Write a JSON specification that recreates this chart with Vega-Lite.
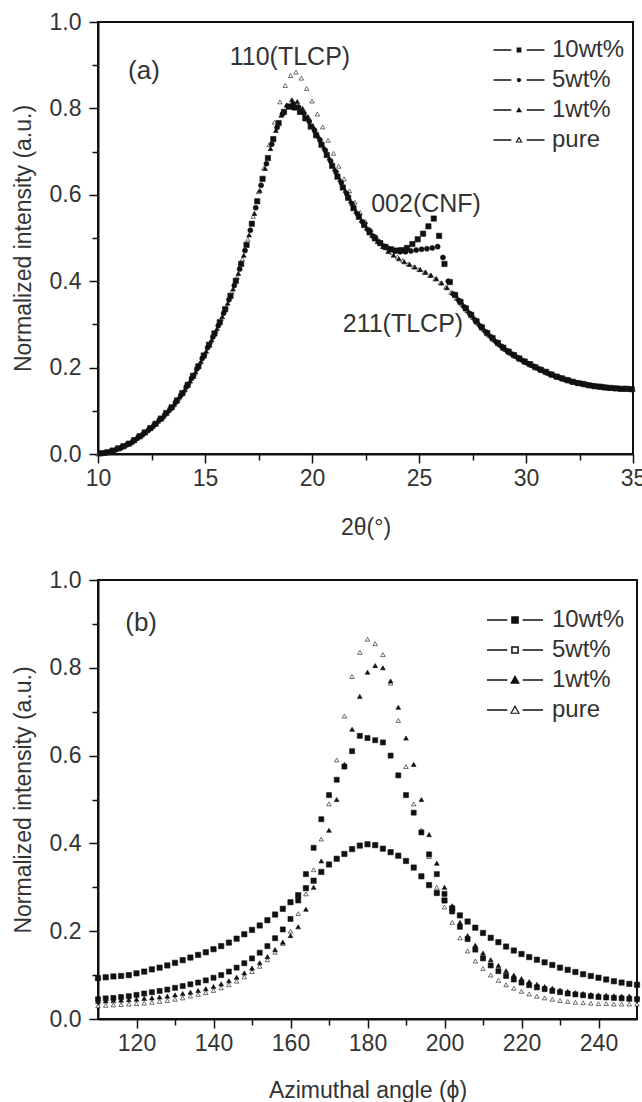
{
"$schema": "https://vega.github.io/schema/vega-lite/v6.json",
"padding": {"left": 11, "top": 10, "right": 0, "bottom": 0},
"spacing": 28,
"config": {
  "font": "Liberation Sans",
  "view": {"stroke": "#111", "strokeWidth": 2},
  "axis": {"domainColor": "#111", "domainWidth": 2, "tickColor": "#111", "tickWidth": 1.5, "grid": false,
    "labelFont": "Liberation Sans", "labelFontSize": 23, "labelColor": "#333", "labelFlush": false, "labelOverlap": false,
    "titleFont": "Liberation Sans", "titleFontSize": 23, "titleColor": "#333", "titleFontWeight": "normal"}
},
"datasets": {
"a": [
{"s":"pure","x":10,"y":0},{"s":"pure","x":10.25,"y":0.003},{"s":"pure","x":10.5,"y":0.004},{"s":"pure","x":10.75,"y":0.009},{"s":"pure","x":11,"y":0.013},{"s":"pure","x":11.25,"y":0.02},{"s":"pure","x":11.5,"y":0.025},{"s":"pure","x":11.75,"y":0.035},{"s":"pure","x":12,"y":0.042},{"s":"pure","x":12.25,"y":0.053},
{"s":"pure","x":12.5,"y":0.061},{"s":"pure","x":12.75,"y":0.074},{"s":"pure","x":13,"y":0.084},{"s":"pure","x":13.25,"y":0.099},{"s":"pure","x":13.5,"y":0.111},{"s":"pure","x":13.75,"y":0.129},{"s":"pure","x":14,"y":0.145},{"s":"pure","x":14.25,"y":0.166},{"s":"pure","x":14.5,"y":0.185},{"s":"pure","x":14.75,"y":0.21},
{"s":"pure","x":15,"y":0.233},{"s":"pure","x":15.25,"y":0.26},{"s":"pure","x":15.5,"y":0.284},{"s":"pure","x":15.75,"y":0.313},{"s":"pure","x":16,"y":0.341},{"s":"pure","x":16.25,"y":0.375},{"s":"pure","x":16.5,"y":0.409},{"s":"pure","x":16.75,"y":0.451},{"s":"pure","x":17,"y":0.497},{"s":"pure","x":17.25,"y":0.55},
{"s":"pure","x":17.5,"y":0.607},{"s":"pure","x":17.75,"y":0.662},{"s":"pure","x":18,"y":0.716},{"s":"pure","x":18.25,"y":0.768},{"s":"pure","x":18.5,"y":0.815},{"s":"pure","x":18.75,"y":0.853},{"s":"pure","x":19,"y":0.876},{"s":"pure","x":19.25,"y":0.884},{"s":"pure","x":19.5,"y":0.87},{"s":"pure","x":19.75,"y":0.846},
{"s":"pure","x":20,"y":0.817},{"s":"pure","x":20.25,"y":0.787},{"s":"pure","x":20.5,"y":0.757},{"s":"pure","x":20.75,"y":0.726},{"s":"pure","x":21,"y":0.696},{"s":"pure","x":21.25,"y":0.666},{"s":"pure","x":21.5,"y":0.637},{"s":"pure","x":21.75,"y":0.609},{"s":"pure","x":22,"y":0.583},{"s":"pure","x":22.25,"y":0.559},
{"s":"pure","x":22.5,"y":0.538},{"s":"pure","x":22.75,"y":0.519},{"s":"pure","x":23,"y":0.503},{"s":"pure","x":23.25,"y":0.489},{"s":"pure","x":23.5,"y":0.477},{"s":"pure","x":23.75,"y":0.466},{"s":"pure","x":24,"y":0.456},{"s":"pure","x":24.25,"y":0.448},{"s":"pure","x":24.5,"y":0.44},{"s":"pure","x":24.75,"y":0.433},
{"s":"pure","x":25,"y":0.427},{"s":"pure","x":25.25,"y":0.42},{"s":"pure","x":25.5,"y":0.413},{"s":"pure","x":25.75,"y":0.405},{"s":"pure","x":26,"y":0.396},{"s":"pure","x":26.25,"y":0.386},{"s":"pure","x":26.5,"y":0.374},{"s":"pure","x":26.75,"y":0.361},{"s":"pure","x":27,"y":0.347},{"s":"pure","x":27.25,"y":0.332},
{"s":"pure","x":27.5,"y":0.317},{"s":"pure","x":27.75,"y":0.303},{"s":"pure","x":28,"y":0.289},{"s":"pure","x":28.25,"y":0.276},{"s":"pure","x":28.5,"y":0.264},{"s":"pure","x":28.75,"y":0.253},{"s":"pure","x":29,"y":0.243},{"s":"pure","x":29.25,"y":0.234},{"s":"pure","x":29.5,"y":0.226},{"s":"pure","x":29.75,"y":0.219},
{"s":"pure","x":30,"y":0.212},{"s":"pure","x":30.25,"y":0.205},{"s":"pure","x":30.5,"y":0.199},{"s":"pure","x":30.75,"y":0.193},{"s":"pure","x":31,"y":0.187},{"s":"pure","x":31.25,"y":0.182},{"s":"pure","x":31.5,"y":0.177},{"s":"pure","x":31.75,"y":0.173},{"s":"pure","x":32,"y":0.169},{"s":"pure","x":32.25,"y":0.166},
{"s":"pure","x":32.5,"y":0.163},{"s":"pure","x":32.75,"y":0.16},{"s":"pure","x":33,"y":0.158},{"s":"pure","x":33.25,"y":0.156},{"s":"pure","x":33.5,"y":0.154},{"s":"pure","x":33.75,"y":0.153},{"s":"pure","x":34,"y":0.152},{"s":"pure","x":34.25,"y":0.151},{"s":"pure","x":34.5,"y":0.15},{"s":"pure","x":34.75,"y":0.15},{"s":"pure","x":35,"y":0.15},

{"s":"1wt%","x":10.06,"y":0.001},{"s":"1wt%","x":10.31,"y":0.002},{"s":"1wt%","x":10.56,"y":0.006},{"s":"1wt%","x":10.81,"y":0.01},{"s":"1wt%","x":11.06,"y":0.014},{"s":"1wt%","x":11.31,"y":0.021},{"s":"1wt%","x":11.56,"y":0.027},{"s":"1wt%","x":11.81,"y":0.036},{"s":"1wt%","x":12.06,"y":0.044},{"s":"1wt%","x":12.31,"y":0.054},
{"s":"1wt%","x":12.56,"y":0.064},{"s":"1wt%","x":12.81,"y":0.076},{"s":"1wt%","x":13.06,"y":0.087},{"s":"1wt%","x":13.31,"y":0.101},{"s":"1wt%","x":13.56,"y":0.115},{"s":"1wt%","x":13.81,"y":0.132},{"s":"1wt%","x":14.06,"y":0.149},{"s":"1wt%","x":14.31,"y":0.169},{"s":"1wt%","x":14.56,"y":0.19},{"s":"1wt%","x":14.81,"y":0.214},
{"s":"1wt%","x":15.06,"y":0.238},{"s":"1wt%","x":15.31,"y":0.264},{"s":"1wt%","x":15.56,"y":0.29},{"s":"1wt%","x":15.81,"y":0.318},{"s":"1wt%","x":16.06,"y":0.349},{"s":"1wt%","x":16.31,"y":0.382},{"s":"1wt%","x":16.56,"y":0.418},{"s":"1wt%","x":16.81,"y":0.46},{"s":"1wt%","x":17.06,"y":0.507},{"s":"1wt%","x":17.31,"y":0.557},
{"s":"1wt%","x":17.56,"y":0.61},{"s":"1wt%","x":17.81,"y":0.661},{"s":"1wt%","x":18.06,"y":0.707},{"s":"1wt%","x":18.31,"y":0.749},{"s":"1wt%","x":18.56,"y":0.784},{"s":"1wt%","x":18.81,"y":0.808},{"s":"1wt%","x":19.06,"y":0.82},{"s":"1wt%","x":19.31,"y":0.816},{"s":"1wt%","x":19.56,"y":0.8},{"s":"1wt%","x":19.81,"y":0.781},
{"s":"1wt%","x":20.06,"y":0.758},{"s":"1wt%","x":20.31,"y":0.735},{"s":"1wt%","x":20.56,"y":0.71},{"s":"1wt%","x":20.81,"y":0.685},{"s":"1wt%","x":21.06,"y":0.66},{"s":"1wt%","x":21.31,"y":0.635},{"s":"1wt%","x":21.56,"y":0.61},{"s":"1wt%","x":21.81,"y":0.586},{"s":"1wt%","x":22.06,"y":0.562},{"s":"1wt%","x":22.31,"y":0.541},
{"s":"1wt%","x":22.56,"y":0.523},{"s":"1wt%","x":22.81,"y":0.506},{"s":"1wt%","x":23.06,"y":0.492},{"s":"1wt%","x":23.31,"y":0.48},{"s":"1wt%","x":23.56,"y":0.469},{"s":"1wt%","x":23.81,"y":0.46},{"s":"1wt%","x":24.06,"y":0.452},{"s":"1wt%","x":24.31,"y":0.445},{"s":"1wt%","x":24.56,"y":0.439},{"s":"1wt%","x":24.81,"y":0.433},
{"s":"1wt%","x":25.06,"y":0.427},{"s":"1wt%","x":25.31,"y":0.421},{"s":"1wt%","x":25.56,"y":0.414},{"s":"1wt%","x":25.81,"y":0.406},{"s":"1wt%","x":26.06,"y":0.396},{"s":"1wt%","x":26.31,"y":0.385},{"s":"1wt%","x":26.56,"y":0.373},{"s":"1wt%","x":26.81,"y":0.36},{"s":"1wt%","x":27.06,"y":0.345},{"s":"1wt%","x":27.31,"y":0.331},
{"s":"1wt%","x":27.56,"y":0.316},{"s":"1wt%","x":27.81,"y":0.301},{"s":"1wt%","x":28.06,"y":0.287},{"s":"1wt%","x":28.31,"y":0.275},{"s":"1wt%","x":28.56,"y":0.263},{"s":"1wt%","x":28.81,"y":0.252},{"s":"1wt%","x":29.06,"y":0.242},{"s":"1wt%","x":29.31,"y":0.233},{"s":"1wt%","x":29.56,"y":0.226},{"s":"1wt%","x":29.81,"y":0.218},
{"s":"1wt%","x":30.06,"y":0.211},{"s":"1wt%","x":30.31,"y":0.205},{"s":"1wt%","x":30.56,"y":0.199},{"s":"1wt%","x":30.81,"y":0.193},{"s":"1wt%","x":31.06,"y":0.187},{"s":"1wt%","x":31.31,"y":0.182},{"s":"1wt%","x":31.56,"y":0.177},{"s":"1wt%","x":31.81,"y":0.173},{"s":"1wt%","x":32.06,"y":0.17},{"s":"1wt%","x":32.31,"y":0.166},
{"s":"1wt%","x":32.56,"y":0.164},{"s":"1wt%","x":32.81,"y":0.161},{"s":"1wt%","x":33.06,"y":0.159},{"s":"1wt%","x":33.31,"y":0.157},{"s":"1wt%","x":33.56,"y":0.155},{"s":"1wt%","x":33.81,"y":0.154},{"s":"1wt%","x":34.06,"y":0.153},{"s":"1wt%","x":34.31,"y":0.152},{"s":"1wt%","x":34.56,"y":0.151},{"s":"1wt%","x":34.81,"y":0.151},

{"s":"5wt%","x":10.12,"y":0.001},{"s":"5wt%","x":10.37,"y":0.003},{"s":"5wt%","x":10.62,"y":0.007},{"s":"5wt%","x":10.87,"y":0.011},{"s":"5wt%","x":11.12,"y":0.016},{"s":"5wt%","x":11.37,"y":0.022},{"s":"5wt%","x":11.62,"y":0.029},{"s":"5wt%","x":11.87,"y":0.038},{"s":"5wt%","x":12.12,"y":0.047},{"s":"5wt%","x":12.37,"y":0.056},
{"s":"5wt%","x":12.62,"y":0.067},{"s":"5wt%","x":12.87,"y":0.079},{"s":"5wt%","x":13.12,"y":0.091},{"s":"5wt%","x":13.37,"y":0.104},{"s":"5wt%","x":13.62,"y":0.119},{"s":"5wt%","x":13.87,"y":0.136},{"s":"5wt%","x":14.12,"y":0.155},{"s":"5wt%","x":14.37,"y":0.175},{"s":"5wt%","x":14.62,"y":0.197},{"s":"5wt%","x":14.87,"y":0.221},
{"s":"5wt%","x":15.12,"y":0.246},{"s":"5wt%","x":15.37,"y":0.271},{"s":"5wt%","x":15.62,"y":0.297},{"s":"5wt%","x":15.87,"y":0.326},{"s":"5wt%","x":16.12,"y":0.357},{"s":"5wt%","x":16.37,"y":0.39},{"s":"5wt%","x":16.62,"y":0.428},{"s":"5wt%","x":16.87,"y":0.471},{"s":"5wt%","x":17.12,"y":0.518},{"s":"5wt%","x":17.37,"y":0.57},
{"s":"5wt%","x":17.62,"y":0.622},{"s":"5wt%","x":17.87,"y":0.672},{"s":"5wt%","x":18.12,"y":0.717},{"s":"5wt%","x":18.37,"y":0.756},{"s":"5wt%","x":18.62,"y":0.787},{"s":"5wt%","x":18.87,"y":0.805},{"s":"5wt%","x":19.12,"y":0.81},{"s":"5wt%","x":19.37,"y":0.803},{"s":"5wt%","x":19.62,"y":0.789},{"s":"5wt%","x":19.87,"y":0.77},
{"s":"5wt%","x":20.12,"y":0.749},{"s":"5wt%","x":20.37,"y":0.727},{"s":"5wt%","x":20.62,"y":0.703},{"s":"5wt%","x":20.87,"y":0.678},{"s":"5wt%","x":21.12,"y":0.653},{"s":"5wt%","x":21.37,"y":0.628},{"s":"5wt%","x":21.62,"y":0.603},{"s":"5wt%","x":21.87,"y":0.579},{"s":"5wt%","x":22.12,"y":0.556},{"s":"5wt%","x":22.37,"y":0.537},
{"s":"5wt%","x":22.62,"y":0.519},{"s":"5wt%","x":22.87,"y":0.504},{"s":"5wt%","x":23.12,"y":0.491},{"s":"5wt%","x":23.37,"y":0.481},{"s":"5wt%","x":23.62,"y":0.474},{"s":"5wt%","x":23.87,"y":0.47},{"s":"5wt%","x":24.12,"y":0.468},{"s":"5wt%","x":24.37,"y":0.468},{"s":"5wt%","x":24.62,"y":0.47},{"s":"5wt%","x":24.87,"y":0.472},
{"s":"5wt%","x":25.12,"y":0.474},{"s":"5wt%","x":25.37,"y":0.475},{"s":"5wt%","x":25.62,"y":0.477},{"s":"5wt%","x":25.87,"y":0.48},{"s":"5wt%","x":26.12,"y":0.455},{"s":"5wt%","x":26.37,"y":0.4},{"s":"5wt%","x":26.62,"y":0.37},{"s":"5wt%","x":26.87,"y":0.355},{"s":"5wt%","x":27.12,"y":0.34},{"s":"5wt%","x":27.37,"y":0.325},
{"s":"5wt%","x":27.62,"y":0.31},{"s":"5wt%","x":27.87,"y":0.296},{"s":"5wt%","x":28.12,"y":0.283},{"s":"5wt%","x":28.37,"y":0.271},{"s":"5wt%","x":28.62,"y":0.259},{"s":"5wt%","x":28.87,"y":0.249},{"s":"5wt%","x":29.12,"y":0.239},{"s":"5wt%","x":29.37,"y":0.231},{"s":"5wt%","x":29.62,"y":0.223},{"s":"5wt%","x":29.87,"y":0.216},
{"s":"5wt%","x":30.12,"y":0.209},{"s":"5wt%","x":30.37,"y":0.203},{"s":"5wt%","x":30.62,"y":0.197},{"s":"5wt%","x":30.87,"y":0.191},{"s":"5wt%","x":31.12,"y":0.185},{"s":"5wt%","x":31.37,"y":0.18},{"s":"5wt%","x":31.62,"y":0.176},{"s":"5wt%","x":31.87,"y":0.172},{"s":"5wt%","x":32.12,"y":0.168},{"s":"5wt%","x":32.37,"y":0.165},
{"s":"5wt%","x":32.62,"y":0.163},{"s":"5wt%","x":32.87,"y":0.16},{"s":"5wt%","x":33.12,"y":0.158},{"s":"5wt%","x":33.37,"y":0.156},{"s":"5wt%","x":33.62,"y":0.155},{"s":"5wt%","x":33.87,"y":0.153},{"s":"5wt%","x":34.12,"y":0.152},{"s":"5wt%","x":34.37,"y":0.151},{"s":"5wt%","x":34.62,"y":0.151},{"s":"5wt%","x":34.87,"y":0.15},

{"s":"10wt%","x":10.19,"y":0.002},{"s":"10wt%","x":10.44,"y":0.004},{"s":"10wt%","x":10.69,"y":0.008},{"s":"10wt%","x":10.94,"y":0.013},{"s":"10wt%","x":11.19,"y":0.018},{"s":"10wt%","x":11.44,"y":0.024},{"s":"10wt%","x":11.69,"y":0.032},{"s":"10wt%","x":11.94,"y":0.041},{"s":"10wt%","x":12.19,"y":0.05},{"s":"10wt%","x":12.44,"y":0.06},
{"s":"10wt%","x":12.69,"y":0.07},{"s":"10wt%","x":12.94,"y":0.082},{"s":"10wt%","x":13.19,"y":0.095},{"s":"10wt%","x":13.44,"y":0.108},{"s":"10wt%","x":13.69,"y":0.124},{"s":"10wt%","x":13.94,"y":0.141},{"s":"10wt%","x":14.19,"y":0.16},{"s":"10wt%","x":14.44,"y":0.181},{"s":"10wt%","x":14.69,"y":0.203},{"s":"10wt%","x":14.94,"y":0.228},
{"s":"10wt%","x":15.19,"y":0.253},{"s":"10wt%","x":15.44,"y":0.279},{"s":"10wt%","x":15.69,"y":0.305},{"s":"10wt%","x":15.94,"y":0.335},{"s":"10wt%","x":16.19,"y":0.366},{"s":"10wt%","x":16.44,"y":0.401},{"s":"10wt%","x":16.69,"y":0.44},{"s":"10wt%","x":16.94,"y":0.484},{"s":"10wt%","x":17.19,"y":0.533},{"s":"10wt%","x":17.44,"y":0.585},
{"s":"10wt%","x":17.69,"y":0.637},{"s":"10wt%","x":17.94,"y":0.685},{"s":"10wt%","x":18.19,"y":0.729},{"s":"10wt%","x":18.44,"y":0.766},{"s":"10wt%","x":18.69,"y":0.792},{"s":"10wt%","x":18.94,"y":0.804},{"s":"10wt%","x":19.19,"y":0.802},{"s":"10wt%","x":19.44,"y":0.792},{"s":"10wt%","x":19.69,"y":0.777},{"s":"10wt%","x":19.94,"y":0.758},
{"s":"10wt%","x":20.19,"y":0.738},{"s":"10wt%","x":20.44,"y":0.716},{"s":"10wt%","x":20.69,"y":0.692},{"s":"10wt%","x":20.94,"y":0.667},{"s":"10wt%","x":21.19,"y":0.642},{"s":"10wt%","x":21.44,"y":0.617},{"s":"10wt%","x":21.69,"y":0.593},{"s":"10wt%","x":21.94,"y":0.569},{"s":"10wt%","x":22.19,"y":0.549},{"s":"10wt%","x":22.44,"y":0.53},
{"s":"10wt%","x":22.69,"y":0.513},{"s":"10wt%","x":22.94,"y":0.499},{"s":"10wt%","x":23.19,"y":0.488},{"s":"10wt%","x":23.44,"y":0.479},{"s":"10wt%","x":23.69,"y":0.474},{"s":"10wt%","x":23.94,"y":0.471},{"s":"10wt%","x":24.19,"y":0.472},{"s":"10wt%","x":24.44,"y":0.477},{"s":"10wt%","x":24.69,"y":0.486},{"s":"10wt%","x":24.94,"y":0.497},
{"s":"10wt%","x":25.19,"y":0.51},{"s":"10wt%","x":25.44,"y":0.527},{"s":"10wt%","x":25.69,"y":0.545},{"s":"10wt%","x":25.94,"y":0.505},{"s":"10wt%","x":26.19,"y":0.44},{"s":"10wt%","x":26.44,"y":0.398},{"s":"10wt%","x":26.69,"y":0.368},{"s":"10wt%","x":26.94,"y":0.352},{"s":"10wt%","x":27.19,"y":0.337},{"s":"10wt%","x":27.44,"y":0.322},
{"s":"10wt%","x":27.69,"y":0.307},{"s":"10wt%","x":27.94,"y":0.293},{"s":"10wt%","x":28.19,"y":0.28},{"s":"10wt%","x":28.44,"y":0.268},{"s":"10wt%","x":28.69,"y":0.257},{"s":"10wt%","x":28.94,"y":0.246},{"s":"10wt%","x":29.19,"y":0.237},{"s":"10wt%","x":29.44,"y":0.229},{"s":"10wt%","x":29.69,"y":0.221},{"s":"10wt%","x":29.94,"y":0.214},
{"s":"10wt%","x":30.19,"y":0.208},{"s":"10wt%","x":30.44,"y":0.201},{"s":"10wt%","x":30.69,"y":0.195},{"s":"10wt%","x":30.94,"y":0.19},{"s":"10wt%","x":31.19,"y":0.184},{"s":"10wt%","x":31.44,"y":0.179},{"s":"10wt%","x":31.69,"y":0.175},{"s":"10wt%","x":31.94,"y":0.171},{"s":"10wt%","x":32.19,"y":0.167},{"s":"10wt%","x":32.44,"y":0.164},
{"s":"10wt%","x":32.69,"y":0.162},{"s":"10wt%","x":32.94,"y":0.159},{"s":"10wt%","x":33.19,"y":0.157},{"s":"10wt%","x":33.44,"y":0.156},{"s":"10wt%","x":33.69,"y":0.154},{"s":"10wt%","x":33.94,"y":0.153},{"s":"10wt%","x":34.19,"y":0.152},{"s":"10wt%","x":34.44,"y":0.151},{"s":"10wt%","x":34.69,"y":0.151},{"s":"10wt%","x":34.94,"y":0.15}
],
"b": [
{"s":"pure","x":110,"y":0.03},{"s":"pure","x":112,"y":0.031},{"s":"pure","x":114,"y":0.032},{"s":"pure","x":116,"y":0.033},{"s":"pure","x":118,"y":0.034},{"s":"pure","x":120,"y":0.035},{"s":"pure","x":122,"y":0.036},{"s":"pure","x":124,"y":0.038},{"s":"pure","x":126,"y":0.04},{"s":"pure","x":128,"y":0.042},
{"s":"pure","x":130,"y":0.045},{"s":"pure","x":132,"y":0.048},{"s":"pure","x":134,"y":0.052},{"s":"pure","x":136,"y":0.056},{"s":"pure","x":138,"y":0.06},{"s":"pure","x":140,"y":0.065},{"s":"pure","x":142,"y":0.071},{"s":"pure","x":144,"y":0.078},{"s":"pure","x":146,"y":0.086},{"s":"pure","x":148,"y":0.096},
{"s":"pure","x":150,"y":0.108},{"s":"pure","x":152,"y":0.12},{"s":"pure","x":154,"y":0.135},{"s":"pure","x":156,"y":0.152},{"s":"pure","x":158,"y":0.172},{"s":"pure","x":160,"y":0.2},{"s":"pure","x":162,"y":0.24},{"s":"pure","x":164,"y":0.285},{"s":"pure","x":166,"y":0.34},{"s":"pure","x":168,"y":0.41},
{"s":"pure","x":170,"y":0.49},{"s":"pure","x":172,"y":0.59},{"s":"pure","x":174,"y":0.69},{"s":"pure","x":176,"y":0.78},{"s":"pure","x":178,"y":0.835},{"s":"pure","x":180,"y":0.865},{"s":"pure","x":182,"y":0.855},{"s":"pure","x":184,"y":0.83},{"s":"pure","x":186,"y":0.765},{"s":"pure","x":188,"y":0.68},
{"s":"pure","x":190,"y":0.575},{"s":"pure","x":192,"y":0.49},{"s":"pure","x":194,"y":0.43},{"s":"pure","x":196,"y":0.37},{"s":"pure","x":198,"y":0.3},{"s":"pure","x":200,"y":0.255},{"s":"pure","x":202,"y":0.22},{"s":"pure","x":204,"y":0.185},{"s":"pure","x":206,"y":0.155},{"s":"pure","x":208,"y":0.132},
{"s":"pure","x":210,"y":0.115},{"s":"pure","x":212,"y":0.1},{"s":"pure","x":214,"y":0.088},{"s":"pure","x":216,"y":0.078},{"s":"pure","x":218,"y":0.07},{"s":"pure","x":220,"y":0.063},{"s":"pure","x":222,"y":0.057},{"s":"pure","x":224,"y":0.052},{"s":"pure","x":226,"y":0.048},{"s":"pure","x":228,"y":0.045},
{"s":"pure","x":230,"y":0.042},{"s":"pure","x":232,"y":0.04},{"s":"pure","x":234,"y":0.038},{"s":"pure","x":236,"y":0.037},{"s":"pure","x":238,"y":0.036},{"s":"pure","x":240,"y":0.035},{"s":"pure","x":242,"y":0.035},{"s":"pure","x":244,"y":0.034},{"s":"pure","x":246,"y":0.034},{"s":"pure","x":248,"y":0.034},{"s":"pure","x":250,"y":0.034},

{"s":"5wt%","x":110,"y":0.045},{"s":"5wt%","x":112,"y":0.047},{"s":"5wt%","x":114,"y":0.048},{"s":"5wt%","x":116,"y":0.05},{"s":"5wt%","x":118,"y":0.052},{"s":"5wt%","x":120,"y":0.055},{"s":"5wt%","x":122,"y":0.058},{"s":"5wt%","x":124,"y":0.061},{"s":"5wt%","x":126,"y":0.064},{"s":"5wt%","x":128,"y":0.067},
{"s":"5wt%","x":130,"y":0.071},{"s":"5wt%","x":132,"y":0.075},{"s":"5wt%","x":134,"y":0.079},{"s":"5wt%","x":136,"y":0.083},{"s":"5wt%","x":138,"y":0.088},{"s":"5wt%","x":140,"y":0.094},{"s":"5wt%","x":142,"y":0.1},{"s":"5wt%","x":144,"y":0.108},{"s":"5wt%","x":146,"y":0.117},{"s":"5wt%","x":148,"y":0.127},
{"s":"5wt%","x":150,"y":0.138},{"s":"5wt%","x":152,"y":0.151},{"s":"5wt%","x":154,"y":0.166},{"s":"5wt%","x":156,"y":0.184},{"s":"5wt%","x":158,"y":0.204},{"s":"5wt%","x":160,"y":0.228},{"s":"5wt%","x":162,"y":0.27},{"s":"5wt%","x":164,"y":0.33},{"s":"5wt%","x":166,"y":0.39},{"s":"5wt%","x":168,"y":0.455},
{"s":"5wt%","x":170,"y":0.51},{"s":"5wt%","x":172,"y":0.545},{"s":"5wt%","x":174,"y":0.575},{"s":"5wt%","x":176,"y":0.61},{"s":"5wt%","x":178,"y":0.645},{"s":"5wt%","x":180,"y":0.64},{"s":"5wt%","x":182,"y":0.635},{"s":"5wt%","x":184,"y":0.63},{"s":"5wt%","x":186,"y":0.6},{"s":"5wt%","x":188,"y":0.555},
{"s":"5wt%","x":190,"y":0.51},{"s":"5wt%","x":192,"y":0.47},{"s":"5wt%","x":194,"y":0.425},{"s":"5wt%","x":196,"y":0.375},{"s":"5wt%","x":198,"y":0.33},{"s":"5wt%","x":200,"y":0.285},{"s":"5wt%","x":202,"y":0.245},{"s":"5wt%","x":204,"y":0.21},{"s":"5wt%","x":206,"y":0.182},{"s":"5wt%","x":208,"y":0.158},
{"s":"5wt%","x":210,"y":0.138},{"s":"5wt%","x":212,"y":0.122},{"s":"5wt%","x":214,"y":0.109},{"s":"5wt%","x":216,"y":0.098},{"s":"5wt%","x":218,"y":0.09},{"s":"5wt%","x":220,"y":0.083},{"s":"5wt%","x":222,"y":0.077},{"s":"5wt%","x":224,"y":0.072},{"s":"5wt%","x":226,"y":0.068},{"s":"5wt%","x":228,"y":0.064},
{"s":"5wt%","x":230,"y":0.061},{"s":"5wt%","x":232,"y":0.058},{"s":"5wt%","x":234,"y":0.056},{"s":"5wt%","x":236,"y":0.054},{"s":"5wt%","x":238,"y":0.052},{"s":"5wt%","x":240,"y":0.05},{"s":"5wt%","x":242,"y":0.049},{"s":"5wt%","x":244,"y":0.048},{"s":"5wt%","x":246,"y":0.047},{"s":"5wt%","x":248,"y":0.046},{"s":"5wt%","x":250,"y":0.045},

{"s":"1wt%","x":110,"y":0.04},{"s":"1wt%","x":112,"y":0.041},{"s":"1wt%","x":114,"y":0.042},{"s":"1wt%","x":116,"y":0.043},{"s":"1wt%","x":118,"y":0.044},{"s":"1wt%","x":120,"y":0.045},{"s":"1wt%","x":122,"y":0.047},{"s":"1wt%","x":124,"y":0.048},{"s":"1wt%","x":126,"y":0.05},{"s":"1wt%","x":128,"y":0.052},
{"s":"1wt%","x":130,"y":0.055},{"s":"1wt%","x":132,"y":0.058},{"s":"1wt%","x":134,"y":0.061},{"s":"1wt%","x":136,"y":0.065},{"s":"1wt%","x":138,"y":0.069},{"s":"1wt%","x":140,"y":0.074},{"s":"1wt%","x":142,"y":0.08},{"s":"1wt%","x":144,"y":0.087},{"s":"1wt%","x":146,"y":0.095},{"s":"1wt%","x":148,"y":0.105},
{"s":"1wt%","x":150,"y":0.116},{"s":"1wt%","x":152,"y":0.128},{"s":"1wt%","x":154,"y":0.142},{"s":"1wt%","x":156,"y":0.158},{"s":"1wt%","x":158,"y":0.175},{"s":"1wt%","x":160,"y":0.19},{"s":"1wt%","x":162,"y":0.21},{"s":"1wt%","x":164,"y":0.25},{"s":"1wt%","x":166,"y":0.3},{"s":"1wt%","x":168,"y":0.36},
{"s":"1wt%","x":170,"y":0.43},{"s":"1wt%","x":172,"y":0.5},{"s":"1wt%","x":174,"y":0.58},{"s":"1wt%","x":176,"y":0.66},{"s":"1wt%","x":178,"y":0.735},{"s":"1wt%","x":180,"y":0.79},{"s":"1wt%","x":182,"y":0.805},{"s":"1wt%","x":184,"y":0.8},{"s":"1wt%","x":186,"y":0.77},{"s":"1wt%","x":188,"y":0.71},
{"s":"1wt%","x":190,"y":0.64},{"s":"1wt%","x":192,"y":0.58},{"s":"1wt%","x":194,"y":0.5},{"s":"1wt%","x":196,"y":0.42},{"s":"1wt%","x":198,"y":0.355},{"s":"1wt%","x":200,"y":0.3},{"s":"1wt%","x":202,"y":0.258},{"s":"1wt%","x":204,"y":0.22},{"s":"1wt%","x":206,"y":0.19},{"s":"1wt%","x":208,"y":0.168},
{"s":"1wt%","x":210,"y":0.15},{"s":"1wt%","x":212,"y":0.135},{"s":"1wt%","x":214,"y":0.122},{"s":"1wt%","x":216,"y":0.11},{"s":"1wt%","x":218,"y":0.1},{"s":"1wt%","x":220,"y":0.092},{"s":"1wt%","x":222,"y":0.085},{"s":"1wt%","x":224,"y":0.079},{"s":"1wt%","x":226,"y":0.074},{"s":"1wt%","x":228,"y":0.07},
{"s":"1wt%","x":230,"y":0.066},{"s":"1wt%","x":232,"y":0.063},{"s":"1wt%","x":234,"y":0.06},{"s":"1wt%","x":236,"y":0.058},{"s":"1wt%","x":238,"y":0.056},{"s":"1wt%","x":240,"y":0.055},{"s":"1wt%","x":242,"y":0.054},{"s":"1wt%","x":244,"y":0.053},{"s":"1wt%","x":246,"y":0.052},{"s":"1wt%","x":248,"y":0.052},{"s":"1wt%","x":250,"y":0.051},

{"s":"10wt%","x":110,"y":0.093},{"s":"10wt%","x":112,"y":0.095},{"s":"10wt%","x":114,"y":0.097},{"s":"10wt%","x":116,"y":0.098},{"s":"10wt%","x":118,"y":0.1},{"s":"10wt%","x":120,"y":0.104},{"s":"10wt%","x":122,"y":0.108},{"s":"10wt%","x":124,"y":0.113},{"s":"10wt%","x":126,"y":0.117},{"s":"10wt%","x":128,"y":0.122},
{"s":"10wt%","x":130,"y":0.128},{"s":"10wt%","x":132,"y":0.134},{"s":"10wt%","x":134,"y":0.14},{"s":"10wt%","x":136,"y":0.146},{"s":"10wt%","x":138,"y":0.152},{"s":"10wt%","x":140,"y":0.159},{"s":"10wt%","x":142,"y":0.166},{"s":"10wt%","x":144,"y":0.174},{"s":"10wt%","x":146,"y":0.183},{"s":"10wt%","x":148,"y":0.193},
{"s":"10wt%","x":150,"y":0.203},{"s":"10wt%","x":152,"y":0.213},{"s":"10wt%","x":154,"y":0.225},{"s":"10wt%","x":156,"y":0.238},{"s":"10wt%","x":158,"y":0.251},{"s":"10wt%","x":160,"y":0.266},{"s":"10wt%","x":162,"y":0.282},{"s":"10wt%","x":164,"y":0.298},{"s":"10wt%","x":166,"y":0.315},{"s":"10wt%","x":168,"y":0.335},
{"s":"10wt%","x":170,"y":0.352},{"s":"10wt%","x":172,"y":0.365},{"s":"10wt%","x":174,"y":0.376},{"s":"10wt%","x":176,"y":0.387},{"s":"10wt%","x":178,"y":0.395},{"s":"10wt%","x":180,"y":0.398},{"s":"10wt%","x":182,"y":0.396},{"s":"10wt%","x":184,"y":0.388},{"s":"10wt%","x":186,"y":0.38},{"s":"10wt%","x":188,"y":0.372},
{"s":"10wt%","x":190,"y":0.36},{"s":"10wt%","x":192,"y":0.345},{"s":"10wt%","x":194,"y":0.325},{"s":"10wt%","x":196,"y":0.305},{"s":"10wt%","x":198,"y":0.287},{"s":"10wt%","x":200,"y":0.27},{"s":"10wt%","x":202,"y":0.252},{"s":"10wt%","x":204,"y":0.236},{"s":"10wt%","x":206,"y":0.222},{"s":"10wt%","x":208,"y":0.208},
{"s":"10wt%","x":210,"y":0.196},{"s":"10wt%","x":212,"y":0.185},{"s":"10wt%","x":214,"y":0.175},{"s":"10wt%","x":216,"y":0.165},{"s":"10wt%","x":218,"y":0.156},{"s":"10wt%","x":220,"y":0.148},{"s":"10wt%","x":222,"y":0.141},{"s":"10wt%","x":224,"y":0.135},{"s":"10wt%","x":226,"y":0.129},{"s":"10wt%","x":228,"y":0.123},
{"s":"10wt%","x":230,"y":0.117},{"s":"10wt%","x":232,"y":0.112},{"s":"10wt%","x":234,"y":0.107},{"s":"10wt%","x":236,"y":0.102},{"s":"10wt%","x":238,"y":0.098},{"s":"10wt%","x":240,"y":0.094},{"s":"10wt%","x":242,"y":0.09},{"s":"10wt%","x":244,"y":0.086},{"s":"10wt%","x":246,"y":0.083},{"s":"10wt%","x":248,"y":0.08},{"s":"10wt%","x":250,"y":0.078}
]
},
"vconcat": [
{
  "width": 535, "height": 432,
  "resolve": {"scale": {"shape": "independent"}},
  "layer": [
    {
      "data": {"name": "a"},
      "mark": {"type": "point", "filled": true, "stroke": "#111", "opacity": 1},
      "encoding": {
        "x": {"field": "x", "type": "quantitative", "scale": {"domain": [10, 35], "nice": false, "zero": false},
          "axis": {"values": [10,12.5,15,17.5,20,22.5,25,27.5,30,32.5,35], "labelOverlap": false, "labelExpr": "datum.value % 5 === 0 ? datum.label : ''",
            "tickSize": {"condition": {"test": "datum.value % 5 === 0", "value": 9}, "value": 6}, "labelPadding": 4, "titlePadding": 26},
          "title": "2θ(°)"},
        "y": {"field": "y", "type": "quantitative", "scale": {"domain": [0, 1], "nice": false},
          "axis": {"values": [0,0.1,0.2,0.3,0.4,0.5,0.6,0.7,0.8,0.9,1], "labelOverlap": false, "format": ".1f", "labelExpr": "round(datum.value*10) % 2 === 0 ? datum.label : ''",
            "tickSize": {"condition": {"test": "round(datum.value*10) % 2 === 0", "value": 9}, "value": 6}, "labelPadding": 8, "titlePadding": 14},
          "title": "Normalized intensity (a.u.)"},
        "shape": {"field": "s", "type": "nominal", "scale": {"domain": ["10wt%","5wt%","1wt%","pure"], "range": ["square","circle","triangle-up","triangle-up"]}, "legend": null},
        "fill": {"field": "s", "type": "nominal", "scale": {"domain": ["10wt%","5wt%","1wt%","pure"], "range": ["#111","#111","#111","#ffffff"]}, "legend": null},
        "size": {"field": "s", "type": "nominal", "scale": {"domain": ["10wt%","5wt%","1wt%","pure"], "range": [28, 20, 32, 36]}, "legend": null},
        "strokeWidth": {"field": "s", "type": "nominal", "scale": {"domain": ["10wt%","5wt%","1wt%","pure"], "range": [0.6, 0.6, 0.6, 1.0]}, "legend": null}
      }
    },
    {
      "data": {"name": "a"},
      "transform": [{"filter": "false"}],
      "mark": {"type": "point", "filled": true, "color": "#111", "size": 289},
      "encoding": {
        "x": {"field": "x", "type": "quantitative"},
        "y": {"field": "y", "type": "quantitative"},
        "shape": {"field": "s", "type": "nominal",
          "scale": {"domain": ["10wt%","5wt%","1wt%","pure"], "range": [
            "M-3,-0.09H-0.9V0.09H-3ZM0.9,-0.09H3V0.09H0.9ZM-0.28,-0.28H0.28V0.28H-0.28Z",
            "M-3,-0.09H-0.9V0.09H-3ZM0.9,-0.09H3V0.09H0.9ZM-0.25,0A0.25,0.25,0,1,0,0.25,0A0.25,0.25,0,1,0,-0.25,0Z",
            "M-3,-0.09H-0.9V0.09H-3ZM0.9,-0.09H3V0.09H0.9ZM0,-0.33L0.36,0.25L-0.36,0.25Z",
            "M-3,-0.09H-0.9V0.09H-3ZM0.9,-0.09H3V0.09H0.9ZM0,-0.4L0.42,0.3L-0.42,0.3ZM0,-0.16L-0.2,0.18L0.2,0.18Z"]},
          "legend": {"title": null, "orient": "none", "legendX": 409, "legendY": 16, "padding": 0,
            "symbolSize": 289, "symbolFillColor": "#111", "symbolStrokeWidth": 0, "symbolOpacity": 1,
            "labelFont": "Liberation Sans", "labelFontSize": 24, "labelColor": "#333", "labelOffset": 21, "rowPadding": 6}}
      }
    },
    {"data": {"values": [{}]}, "mark": {"type": "text", "font": "Liberation Sans", "fontSize": 26, "color": "#333"},
     "encoding": {"x": {"datum": 12.15}, "y": {"datum": 0.887}, "text": {"value": "(a)"}}},
    {"data": {"values": [{}]}, "mark": {"type": "text", "font": "Liberation Sans", "fontSize": 25, "color": "#333"},
     "encoding": {"x": {"datum": 18.97}, "y": {"datum": 0.92}, "text": {"value": "110(TLCP)"}}},
    {"data": {"values": [{}]}, "mark": {"type": "text", "font": "Liberation Sans", "fontSize": 25, "color": "#333"},
     "encoding": {"x": {"datum": 25.33}, "y": {"datum": 0.579}, "text": {"value": "002(CNF)"}}},
    {"data": {"values": [{}]}, "mark": {"type": "text", "font": "Liberation Sans", "fontSize": 25, "color": "#333"},
     "encoding": {"x": {"datum": 24.25}, "y": {"datum": 0.30}, "text": {"value": "211(TLCP)"}}}
  ]
},
{
  "width": 539, "height": 439,
  "resolve": {"scale": {"shape": "independent"}},
  "layer": [
    {
      "data": {"name": "b"},
      "mark": {"type": "point", "filled": true, "stroke": "#111", "opacity": 1},
      "encoding": {
        "x": {"field": "x", "type": "quantitative", "scale": {"domain": [110, 250], "nice": false, "zero": false},
          "axis": {"values": [120,130,140,150,160,170,180,190,200,210,220,230,240], "labelOverlap": false, "labelExpr": "datum.value % 20 === 0 ? datum.label : ''",
            "tickSize": {"condition": {"test": "datum.value % 20 === 0", "value": 9}, "value": 6}, "labelPadding": 4, "titlePadding": 24},
          "title": "Azimuthal angle (ϕ)"},
        "y": {"field": "y", "type": "quantitative", "scale": {"domain": [0, 1], "nice": false},
          "axis": {"values": [0,0.1,0.2,0.3,0.4,0.5,0.6,0.7,0.8,0.9,1], "labelOverlap": false, "format": ".1f", "labelExpr": "round(datum.value*10) % 2 === 0 ? datum.label : ''",
            "tickSize": {"condition": {"test": "round(datum.value*10) % 2 === 0", "value": 9}, "value": 6}, "labelPadding": 8, "titlePadding": 14},
          "title": "Normalized intensity (a.u.)"},
        "shape": {"field": "s", "type": "nominal", "scale": {"domain": ["10wt%","5wt%","1wt%","pure"], "range": ["square","square","triangle-up","triangle-up"]}, "legend": null},
        "fill": {"field": "s", "type": "nominal", "scale": {"domain": ["10wt%","5wt%","1wt%","pure"], "range": ["#111","#ffffff","#111","#ffffff"]}, "legend": null},
        "size": {"field": "s", "type": "nominal", "scale": {"domain": ["10wt%","5wt%","1wt%","pure"], "range": [56, 40, 85, 85]}, "legend": null},
        "strokeWidth": {"field": "s", "type": "nominal", "scale": {"domain": ["10wt%","5wt%","1wt%","pure"], "range": [0.6, 1.5, 0.6, 1.3]}, "legend": null}
      }
    },
    {
      "data": {"name": "b"},
      "transform": [{"filter": "false"}],
      "mark": {"type": "point", "filled": true, "color": "#111", "size": 289},
      "encoding": {
        "x": {"field": "x", "type": "quantitative"},
        "y": {"field": "y", "type": "quantitative"},
        "shape": {"field": "s", "type": "nominal",
          "scale": {"domain": ["10wt%","5wt%","1wt%","pure"], "range": [
            "M-3.3,-0.09H-0.9V0.09H-3.3ZM0.9,-0.09H3.3V0.09H0.9ZM-0.45,-0.45H0.45V0.45H-0.45Z",
            "M-3.3,-0.09H-0.9V0.09H-3.3ZM0.9,-0.09H3.3V0.09H0.9ZM-0.45,-0.45H0.45V0.45H-0.45ZM-0.27,-0.27V0.27H0.27V-0.27Z",
            "M-3.3,-0.09H-0.9V0.09H-3.3ZM0.9,-0.09H3.3V0.09H0.9ZM0,-0.58L0.58,0.45L-0.58,0.45Z",
            "M-3.3,-0.09H-0.9V0.09H-3.3ZM0.9,-0.09H3.3V0.09H0.9ZM0,-0.58L0.58,0.45L-0.58,0.45ZM0,-0.3L-0.36,0.33L0.36,0.33Z"]},
          "legend": {"title": null, "orient": "none", "legendX": 405, "legendY": 28, "padding": 0,
            "symbolSize": 289, "symbolFillColor": "#111", "symbolStrokeWidth": 0, "symbolOpacity": 1,
            "labelFont": "Liberation Sans", "labelFontSize": 24, "labelColor": "#333", "labelOffset": 25, "rowPadding": 6}}
      }
    },
    {"data": {"values": [{}]}, "mark": {"type": "text", "font": "Liberation Sans", "fontSize": 26, "color": "#333"},
     "encoding": {"x": {"datum": 121.2}, "y": {"datum": 0.902}, "text": {"value": "(b)"}}}
  ]
}
]
}
